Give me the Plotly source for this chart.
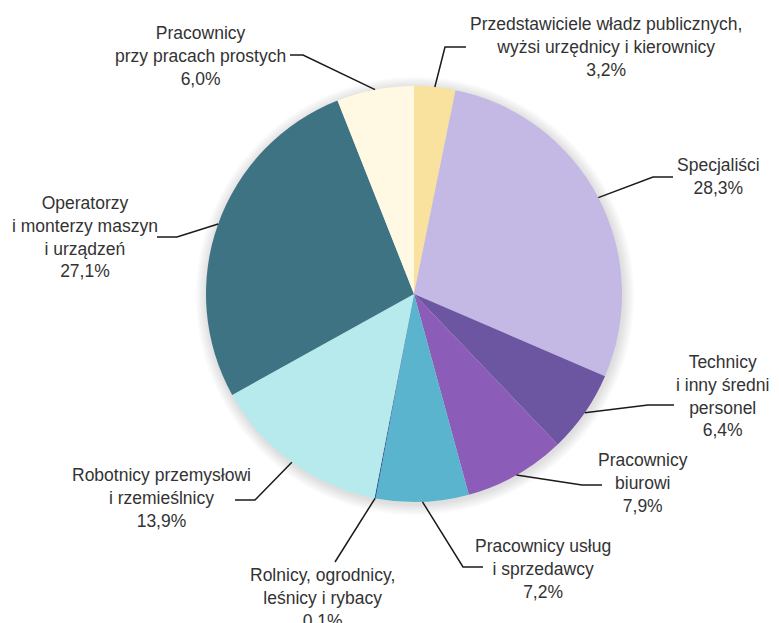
import math
import plotly.graph_objects as go

# ---- data ----
categories = [
    "Przedstawiciele władz publicznych,<br>wyżsi urzędnicy i kierownicy",
    "Specjaliści",
    "Technicy<br>i inny średni<br>personel",
    "Pracownicy<br>biurowi",
    "Pracownicy usług<br>i sprzedawcy",
    "Rolnicy, ogrodnicy,<br>leśnicy i rybacy",
    "Robotnicy przemysłowi<br>i rzemieślnicy",
    "Operatorzy<br>i monterzy maszyn<br>i urządzeń",
    "Pracownicy<br>przy pracach prostych",
]
values = [3.2, 28.3, 6.4, 7.9, 7.2, 0.1, 13.9, 27.1, 6.0]
value_labels = ["3,2%", "28,3%", "6,4%", "7,9%", "7,2%", "0,1%", "13,9%", "27,1%", "6,0%"]

# ---- style ----
colors = ["#F9E29E", "#C3B9E4", "#6C56A1", "#8C5CB9", "#5AB4CD",
          "#2E5E9E", "#B6EAEC", "#3E7383", "#FFF8E3"]

OFF = 8                    # page body margin in the browser
W, H = 779 - OFF, 623 - OFF
CX, CY, R = 414, 294, 208  # pie centre and radius in screen px

# label text centre (screen px) and elbow points (screen px) for leader lines
label_pos = [(606, 47), (718, 176), (722, 396), (643, 483), (543, 569),
             (322, 598), (161, 498), (85, 237), (200, 56)]
elbows = [
    [(445, 47), (466, 47)],
    [(653, 177), (673, 177)],
    [(648, 405), (674, 405)],
    [(582, 485), (602, 485)],
    [(463, 567), (483, 567)],
    [(335, 562)],
    [(255, 500), (235, 500)],
    [(177, 237), (157, 237)],
    [(303, 55), (290, 55)],
]


def px(x, y):
    return (x - OFF) / W, 1 - (y - OFF) / H


def domain_for(rad, dx=0, dy=0):
    x0, y1 = px(CX + dx - rad, CY + dy - rad)
    x1, y0 = px(CX + dx + rad, CY + dy + rad)
    return dict(x=[x0, x1], y=[y0, y1])


fig = go.Figure()

# soft shadow around the pie
for k in range(1, 9):
    fig.add_trace(go.Pie(
        values=[1], marker=dict(colors=["rgba(0,0,0,0.014)"], line=dict(width=0)),
        textinfo="none", hoverinfo="skip", showlegend=False, sort=False,
        domain=domain_for(R + 1.4 * k, 1, 2),
    ))

fig.add_trace(go.Pie(
    values=values,
    labels=[c.replace("<br>", " ") for c in categories],
    sort=False,
    direction="clockwise",
    rotation=0,
    marker=dict(colors=colors, line=dict(width=0)),
    textinfo="none",
    hoverinfo="label+percent",
    showlegend=False,
    domain=domain_for(R),
))

total = sum(values)
cum = 0
shapes = []
annotations = []
for i, v in enumerate(values):
    mid = (cum + v / 2) / total * 2 * math.pi
    cum += v
    ax = CX + R * math.sin(mid)
    ay = CY - R * math.cos(mid)
    pts = [(ax, ay)] + elbows[i]
    path = "M " + " L ".join(f"{px(x, y)[0]:.5f},{px(x, y)[1]:.5f}" for x, y in pts)
    shapes.append(dict(type="path", xref="paper", yref="paper", path=path,
                       line=dict(color="#1a1a1a", width=1.5)))
    lx, ly = px(*label_pos[i])
    annotations.append(dict(
        x=lx, y=ly, xref="paper", yref="paper",
        text=categories[i] + "<br>" + value_labels[i],
        showarrow=False, align="center", xanchor="center", yanchor="middle",
        font=dict(size=17.5, color="#333333"),
    ))

fig.update_layout(
    width=W, height=H,
    margin=dict(l=0, r=0, t=0, b=0),
    paper_bgcolor="white",
    plot_bgcolor="white",
    font=dict(family="Liberation Sans, Arial, sans-serif"),
    shapes=shapes,
    annotations=annotations,
)

fig.write_html("out.html")
